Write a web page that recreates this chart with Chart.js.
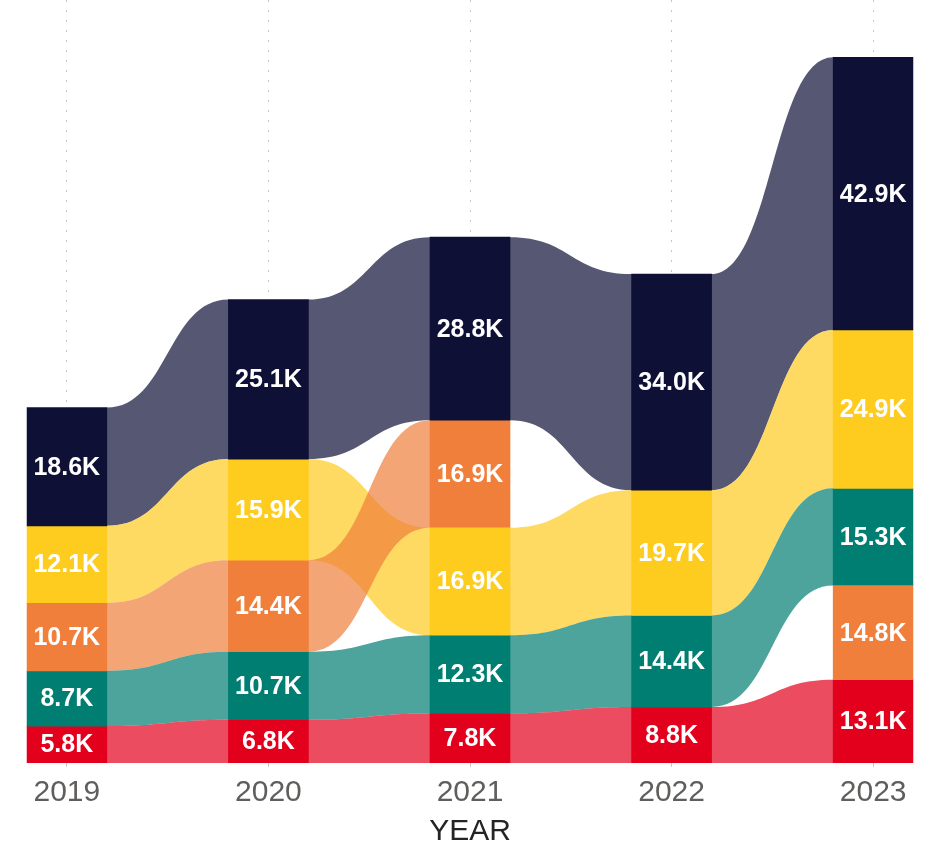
<!DOCTYPE html>
<html><head><meta charset="utf-8">
<script src="https://cdn.jsdelivr.net/npm/chart.js@4.4.1/dist/chart.umd.min.js"></script>
<style>html,body{margin:0;padding:0;background:#fff}</style>
</head><body>
<canvas id="c" width="938" height="845"></canvas>
<script>
// ---- data (values in thousands) ----
const YEARS  = ['2019', '2020', '2021', '2022', '2023'];
const SERIES = ['Series 1', 'Series 2', 'Series 3', 'Series 4', 'Series 5'];
const NAVY   = [18.6, 25.1, 28.8, 34.0, 42.9];
const YELLOW = [12.1, 15.9, 16.9, 19.7, 24.9];
const ORANGE = [10.7, 14.4, 16.9, null, 14.8];
const TEAL   = [8.7, 10.7, 12.3, 14.4, 15.3];
const RED    = [5.8, 6.8, 7.8, 8.8, 13.1];

const VALUES = [NAVY, YELLOW, ORANGE, TEAL, RED];
const COLORS = ['#0e1036', '#fecb1f', '#f07f3c', '#007e72', '#e3001c'];
const RIBBON_ALPHA = 0.7;

function rgba(hex, a) {
  const n = parseInt(hex.slice(1), 16);
  return `rgba(${(n >> 16) & 255},${(n >> 8) & 255},${n & 255},${a})`;
}

// ribbon-chart stacking: per year, smaller values at the bottom
const RANGES = VALUES.map(() => YEARS.map(() => null));
YEARS.forEach((_, i) => {
  const items = VALUES.map((arr, s) => ({ s, v: arr[i] })).filter(o => o.v != null);
  items.sort((a, b) => (a.v - b.v) || (a.s - b.s));
  let acc = 0;
  items.forEach(o => { RANGES[o.s][i] = [acc, acc + o.v]; acc += o.v; });
});

const datasets = SERIES.map((name, s) => ({
  label: name,
  data: RANGES[s].map((r, i) => r ? { x: i, y: r } : null).filter(Boolean),
  backgroundColor: COLORS[s],
  borderWidth: 0,
  barThickness: 80,
  grouped: false
}));

const ribbons = {
  id: 'ribbons',
  beforeDatasetsDraw(chart) {
    const { ctx, scales: { x, y } } = chart;
    const half = chart.getDatasetMeta(0).data[0].width / 2;
    ctx.save();
    SERIES.forEach((_, s) => {
      ctx.fillStyle = rgba(COLORS[s], RIBBON_ALPHA);
      for (let i = 0; i < YEARS.length - 1; i++) {
        const a = RANGES[s][i], b = RANGES[s][i + 1];
        if (!a || !b) continue;
        const xl = x.getPixelForValue(i) + half;
        const xr = x.getPixelForValue(i + 1) - half;
        const xm = (xl + xr) / 2;
        const tl = y.getPixelForValue(a[1]), bl = y.getPixelForValue(a[0]);
        const tr = y.getPixelForValue(b[1]), br = y.getPixelForValue(b[0]);
        ctx.beginPath();
        ctx.moveTo(xl - 0.5, tl);
        ctx.lineTo(xl, tl);
        ctx.bezierCurveTo(xm, tl, xm, tr, xr, tr);
        ctx.lineTo(xr + 0.5, tr);
        ctx.lineTo(xr + 0.5, br);
        ctx.lineTo(xr, br);
        ctx.bezierCurveTo(xm, br, xm, bl, xl, bl);
        ctx.lineTo(xl - 0.5, bl);
        ctx.closePath();
        ctx.fill();
      }
    });
    ctx.restore();
  }
};

const valueLabels = {
  id: 'valueLabels',
  afterDatasetsDraw(chart) {
    const { ctx, scales: { x, y } } = chart;
    ctx.save();
    ctx.fillStyle = '#ffffff';
    ctx.font = 'bold 25px "Liberation Sans", Arial, sans-serif';
    ctx.textAlign = 'center';
    ctx.textBaseline = 'middle';
    SERIES.forEach((_, s) => {
      RANGES[s].forEach((r, i) => {
        if (!r) return;
        const v = VALUES[s][i];
        ctx.fillText(v.toFixed(1) + 'K', x.getPixelForValue(i), y.getPixelForValue((r[0] + r[1]) / 2) + 1);
      });
    });
    ctx.restore();
  }
};

new Chart(document.getElementById('c'), {
  type: 'bar',
  data: { datasets },
  plugins: [ribbons, valueLabels],
  options: {
    responsive: false,
    animation: false,
    layout: { padding: { left: 26.5, right: 24.5, top: 0, bottom: 0 } },
    plugins: { legend: { display: false }, tooltip: { enabled: false } },
    scales: {
      x: {
        type: 'linear',
        min: -0.2,
        max: 4.2,
        offset: false,
        afterBuildTicks(sc) { sc.ticks = YEARS.map((_, i) => ({ value: i })); },
        ticks: {
          callback: v => YEARS[v],
          font: { family: '"Liberation Sans", Arial, sans-serif', size: 30, lineHeight: 1.23 },
          color: '#605e5c',
          padding: 7.5,
          autoSkip: false,
          maxRotation: 0
        },
        grid: { color: '#c8c8c8', lineWidth: 1, tickLength: 4, offset: false },
        border: { display: false, dash: [2, 8] },
        title: {
          display: true,
          text: 'YEAR',
          font: { family: '"Liberation Sans", Arial, sans-serif', size: 30, lineHeight: 0.87 },
          color: '#252423',
          padding: { top: 0, bottom: 0 }
        }
      },
      y: { display: false, min: 0, max: 120 }
    }
  }
});
</script>
</body></html>
